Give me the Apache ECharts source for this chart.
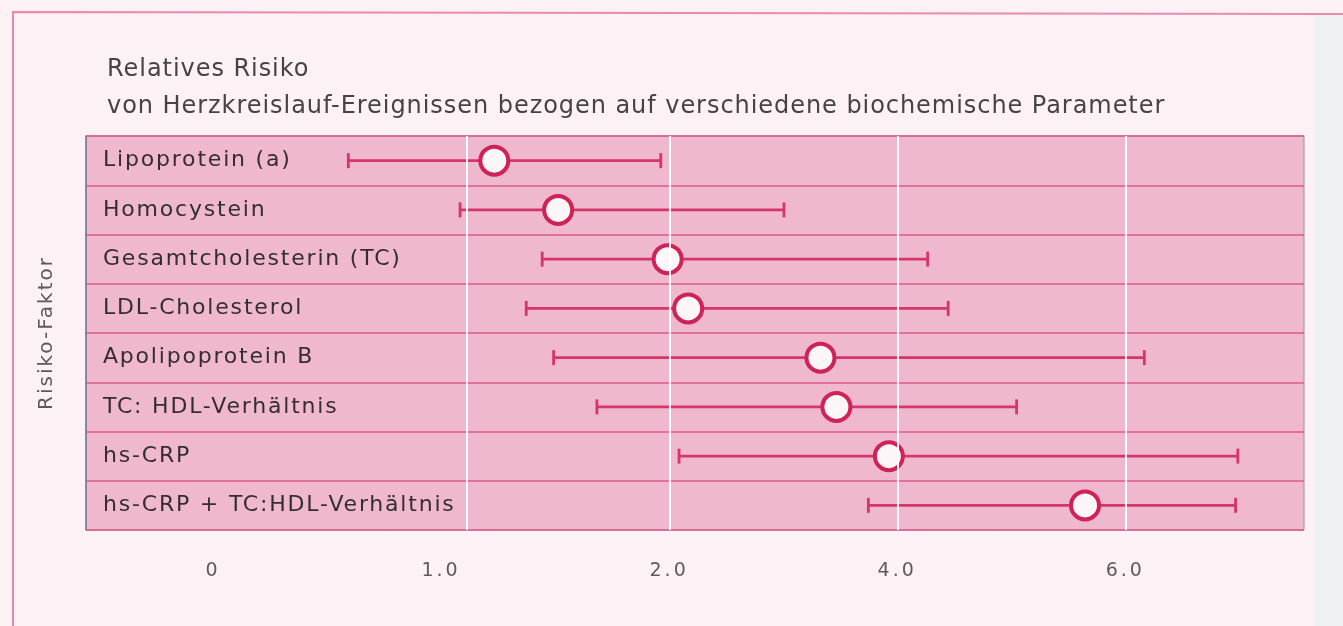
<!DOCTYPE html>
<html>
<head>
<meta charset="utf-8">
<script src="https://cdn.jsdelivr.net/npm/echarts@6/dist/echarts.min.js"></script>
<style>
html,body{margin:0;padding:0;background:#fcf1f5;}
#chart{width:1343px;height:626px;}
</style>
</head>
<body>
<div id="chart"></div>
<script>
// ---- data (values on the chart's axis scale; tick k is labelled tickLabels[k]) ----
const titleLines = ['Relatives Risiko', 'von Herzkreislauf-Ereignissen bezogen auf verschiedene biochemische Parameter'];
const yAxisName = 'Risiko-Faktor';
const categories = [
  'Lipoprotein (a)',
  'Homocystein',
  'Gesamtcholesterin (TC)',
  'LDL-Cholesterol',
  'Apolipoprotein B',
  'TC: HDL-Verhältnis',
  'hs-CRP',
  'hs-CRP + TC:HDL-Verhältnis'
];
const lowValues  = [0.60, 1.09, 1.45, 1.38, 1.50, 1.69, 2.05, 2.88];
const midValues  = [1.24, 1.52, 2.00, 2.09, 2.67, 2.74, 2.97, 3.83];
const highValues = [1.97, 2.51, 3.14, 3.23, 4.09, 3.53, 4.50, 4.49];
const tickPositions = [0, 1, 2, 3, 4];
const tickLabels = ['0', '1.0', '2.0', '4.0', '6.0'];
const gridLineValues = [1.12, 2.01, 3.01, 4.01];

// ---- typographic letter spacing (the printed original is widely tracked) ----
(function () {
  const trackingBySize = { 24: 0.95, 22: 1.8, 20: 2, 19: 3 };
  const proto = CanvasRenderingContext2D.prototype;
  const orig = proto.fillText;
  proto.fillText = function (text, x, y, maxW) {
    const m = /(\d+(?:\.\d+)?)px/.exec(this.font || '');
    const s = m ? trackingBySize[Math.round(parseFloat(m[1]))] : 0;
    const call = () => (maxW === undefined ? orig.call(this, text, x, y) : orig.call(this, text, x, y, maxW));
    if (s && 'letterSpacing' in this) {
      const prev = this.letterSpacing;
      this.letterSpacing = s + 'px';
      const r = call();
      this.letterSpacing = prev;
      return r;
    }
    return call();
  };
})();

const chart = echarts.init(document.getElementById('chart'));
const FONT = '"DejaVu Sans", "Noto Sans", sans-serif';
const RED = '#d6356a';

const errData = categories.map((c, i) => [lowValues[i], highValues[i], i]);
const ptData = categories.map((c, i) => [midValues[i], i]);

chart.setOption({
  backgroundColor: '#fcf1f5',
  animation: false,
  graphic: [
    { type: 'rect', z: -10, shape: { x: 1314, y: 14, width: 29, height: 612 }, style: { fill: '#eef2f5' } },
    { type: 'polyline', z: -5, shape: { points: [[13, 626], [13, 12], [1343, 14]] }, style: { stroke: '#e98aae', lineWidth: 2, fill: null } }
  ],
  title: {
    text: titleLines.join('\n'),
    left: 102,
    top: 46,
    textStyle: { fontFamily: FONT, fontSize: 24, lineHeight: 37, fontWeight: 'normal', color: '#474345' }
  },
  grid: {
    left: 86, right: 39, top: 136, bottom: 96,
    show: true,
    backgroundColor: '#efb8cf',
    borderColor: '#9c8f9c',
    borderWidth: 1
  },
  xAxis: {
    type: 'value',
    min: -0.55,
    max: 4.79,
    axisLine: { show: false },
    axisTick: { show: false },
    splitLine: { show: false },
    axisLabel: {
      customValues: tickPositions,
      formatter: v => tickLabels[tickPositions.indexOf(v)],
      margin: 32,
      padding: [0, 0, 0, 3],
      fontFamily: FONT,
      fontSize: 19,
      color: '#5f5a5c'
    }
  },
  yAxis: {
    type: 'category',
    data: categories,
    inverse: true,
    name: yAxisName,
    nameLocation: 'middle',
    nameGap: 29,
    nameRotate: 90,
    nameTextStyle: { fontFamily: FONT, fontSize: 20, color: '#5e595b' },
    axisLine: { show: true, onZero: false, lineStyle: { color: '#767a92', width: 1.5 } },
    axisTick: { show: false },
    splitLine: { show: true, lineStyle: { color: '#dd5a87', width: 1.5 } },
    axisLabel: {
      inside: true,
      margin: 17,
      align: 'left',
      fontFamily: FONT,
      fontSize: 22,
      color: '#342e30'
    }
  },
  series: [
    {
      type: 'scatter',
      data: [],
      z: 1,
      silent: true,
      markLine: {
        silent: true,
        symbol: ['none', 'none'],
        label: { show: false },
        lineStyle: { color: '#ffffff', width: 2, type: 'solid', opacity: 0.95 },
        data: gridLineValues.map(v => ({ xAxis: v }))
      }
    },
    {
      type: 'custom',
      z: 3,
      data: errData,
      encode: { x: [0, 1], y: 2 },
      renderItem: function (params, api) {
        const p1 = api.coord([api.value(0), api.value(2)]);
        const p2 = api.coord([api.value(1), api.value(2)]);
        const h = 7.5;
        const st = { stroke: RED, lineWidth: 2.8 };
        return {
          type: 'group',
          children: [
            { type: 'line', shape: { x1: p1[0], y1: p1[1], x2: p2[0], y2: p2[1] }, style: st },
            { type: 'line', shape: { x1: p1[0], y1: p1[1] - h, x2: p1[0], y2: p1[1] + h }, style: st },
            { type: 'line', shape: { x1: p2[0], y1: p2[1] - h, x2: p2[0], y2: p2[1] + h }, style: st }
          ]
        };
      }
    },
    {
      type: 'scatter',
      z: 4,
      data: ptData,
      symbol: 'circle',
      symbolSize: 28,
      itemStyle: { color: '#fcf6f8', borderColor: '#cf2257', borderWidth: 4, opacity: 1 }
    }
  ]
});
</script>
</body>
</html>
